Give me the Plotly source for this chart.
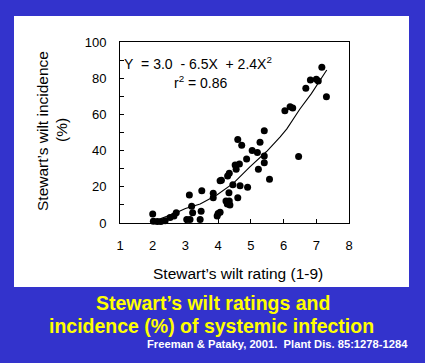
import plotly.graph_objects as go

# Data
rating = [2.0, 2.02, 2.14, 2.25, 2.38, 2.53, 2.65, 2.72,
          3.04, 3.14, 3.12, 3.19, 3.22, 3.45, 3.48, 3.5,
          3.85, 3.85, 3.97, 4.0, 4.06, 4.06, 4.1,
          4.24, 4.28, 4.36, 4.34, 4.29, 4.34, 4.33, 4.45,
          4.52, 4.55, 4.6, 4.72, 4.65, 4.6, 4.67,
          4.87, 4.9, 5.04, 5.2, 5.23, 5.28, 5.41, 5.41, 5.41, 5.57,
          6.04, 6.2, 6.28, 6.46, 6.68, 6.82, 7.0, 7.06, 7.17, 7.31]
incidence = [5, 1, 0.8, 0.8, 1.2, 3, 3.8, 5.6,
             2, 2, 15.5, 9.3, 5.6, 2, 6.5, 17.8,
             16.5, 14, 3.8, 5.2, 6, 23.4, 23.6,
             12.2, 10.5, 9.9, 12.2, 26, 27.5, 16.7, 21.2,
             32, 29.7, 46.2, 43, 32.6, 14, 20.6,
             35.4, 19.8, 40, 39, 29.7, 44.6, 51, 37, 33.3, 24.2,
             62, 64.2, 63.6, 36.7, 74.4, 79, 79.4, 78.5, 86, 69.8]

fit_x = [2.25, 2.7, 3.0, 3.45, 3.96, 4.47, 4.97, 5.48, 5.89, 6.1, 6.5, 6.85, 7.32]
fit_y = [2.5, 5.5, 8.0, 10.5, 15.5, 22.0, 31.0, 39.5, 47.5, 52.0, 63.0, 71.5, 84.5]

x_ticks = [1, 2, 3, 4, 5, 6, 7, 8]
y_ticks = [0, 20, 40, 60, 80, 100]

W, H = 425, 363
L, R, T, B = 120, 349, 42, 223  # plot area in pixels


def px(x):
    return (x - L) / (R - L)


def py(y):
    return (B - y) / (B - T)


FONT = "Liberation Sans, Arial, sans-serif"
NB = "\u00a0"

fig = go.Figure()
fig.add_trace(go.Scatter(x=fit_x, y=fit_y, mode="lines",
                         line=dict(color="black", width=1.1),
                         hoverinfo="skip", showlegend=False))
fig.add_trace(go.Scatter(x=rating, y=incidence, mode="markers",
                         marker=dict(color="black", size=7),
                         cliponaxis=False, showlegend=False))

fig.update_layout(
    width=W, height=H,
    margin=dict(l=L, r=W - R, t=T, b=H - B, pad=0, autoexpand=False),
    paper_bgcolor="#3333cc",
    plot_bgcolor="white",
    font=dict(family=FONT, size=13, color="black"),
    xaxis=dict(range=[1, 8], tickvals=x_ticks, ticks="inside", ticklen=4,
               tickcolor="black", showline=True, linecolor="black",
               linewidth=1, mirror=True, showgrid=False, zeroline=False,
               tickfont=dict(size=13), ticklabelstandoff=10, automargin=False),
    yaxis=dict(range=[0, 100], tickvals=y_ticks, ticks="inside", ticklen=4,
               tickcolor="black", showline=True, linecolor="black",
               linewidth=1, mirror=True, showgrid=False, zeroline=False,
               tickfont=dict(size=13), ticklabelstandoff=10, automargin=False,
               minor=dict(dtick=10, ticks="inside", ticklen=4,
                          tickcolor="black")),
    shapes=[dict(type="rect", xref="paper", yref="paper", layer="below",
                 x0=px(14), x1=px(409), y0=py(287), y1=py(16),
                 fillcolor="white", line=dict(width=0))],
)

ann = [
    dict(text=f"Y{NB} = 3.0{NB} - 6.5X{NB} + 2.4X<sup>2</sup>", x=px(122), y=py(63),
         xanchor="left", yanchor="middle", font=dict(size=14)),
    dict(text="r<sup>2</sup> = 0.86", x=px(172), y=py(82),
         xanchor="left", yanchor="middle", font=dict(size=14)),
    dict(text="Stewart’s wilt rating (1-9)", x=px(238), y=py(273),
         xanchor="center", yanchor="middle", font=dict(size=15.5)),
    dict(text="Stewart’s wilt incidence", x=px(42), y=py(131), textangle=-90,
         xanchor="center", yanchor="middle", font=dict(size=15.5)),
    dict(text="(%)", x=px(61), y=py(130), textangle=-90,
         xanchor="center", yanchor="middle", font=dict(size=15.5)),
    dict(text="<b>Stewart’s wilt ratings and</b>", x=px(213), y=py(303),
         xanchor="center", yanchor="middle",
         font=dict(size=19.5, color="#ffff00")),
    dict(text="<b>incidence (%) of systemic infection</b>", x=px(211), y=py(326),
         xanchor="center", yanchor="middle",
         font=dict(size=19.5, color="#ffff00")),
    dict(text="<b>Freeman &amp; Pataky, 2001.  Plant Dis. 85:1278-1284</b>",
         x=px(410), y=py(344), xanchor="right", yanchor="middle",
         font=dict(size=11.2, color="white")),
]
for a in ann:
    a.update(xref="paper", yref="paper", showarrow=False)
    fig.add_annotation(**a)

fig.write_html("out.html",
               config={"displayModeBar": False},
               post_script="document.body.style.margin='0';"
                           "document.body.style.background='#3333cc';")
